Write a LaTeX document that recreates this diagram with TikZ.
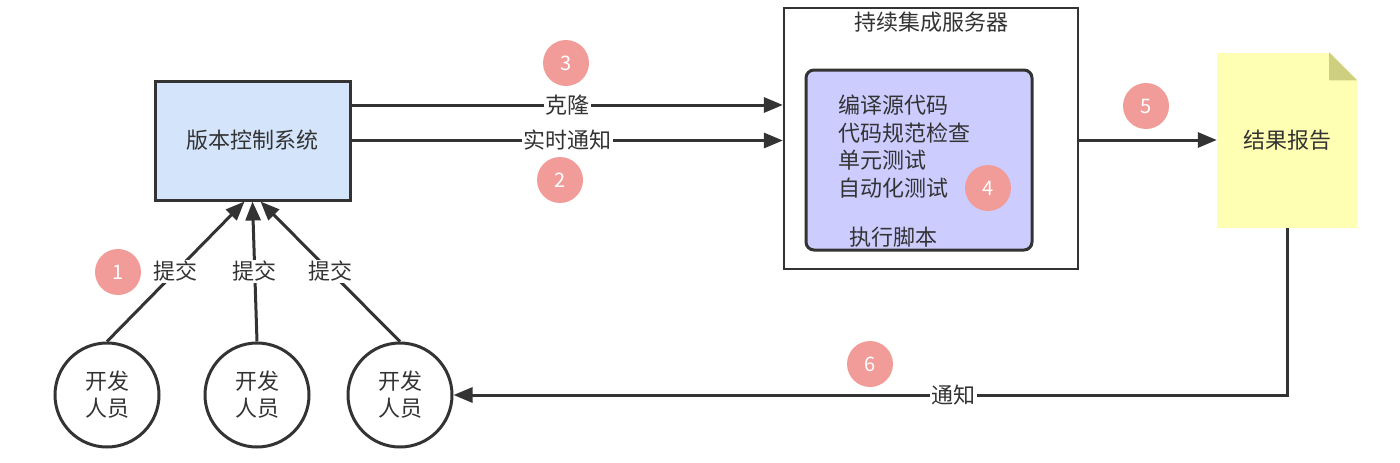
\documentclass[tikz,border=0pt]{standalone}
\usepackage{fontspec}
\setmainfont{Noto Sans CJK SC}
\usetikzlibrary{arrows.meta, positioning, calc}
\definecolor{ink}{HTML}{333333}
\definecolor{vcsFill}{HTML}{D4E5FB}
\definecolor{scriptFill}{HTML}{CCCCFF}
\definecolor{noteFill}{HTML}{FFFFB3}
\definecolor{noteFold}{HTML}{CFCF80}
\definecolor{badgeRed}{HTML}{F19C99}
\tikzset{
  font=\fontsize{22}{27}\selectfont,
  vcsbox/.style={rectangle, draw=ink, line width=3pt, fill=vcsFill, text=ink,
                 minimum width=195pt, minimum height=119pt},
  serverbox/.style={rectangle, draw=ink, line width=2.2pt, fill=white,
                    minimum width=294pt, minimum height=261pt},
  scriptbox/.style={rectangle, rounded corners=8pt, draw=ink, line width=3pt,
                    fill=scriptFill, minimum width=226pt, minimum height=180pt},
  notebox/.style={rectangle, fill=noteFill, text=ink,
                  minimum width=140pt, minimum height=175pt},
  dev/.style={circle, draw=ink, line width=3pt, fill=white, text=ink, align=center,
              minimum size=104pt, inner sep=0pt},
  title/.style={text=ink, inner sep=1pt},
  steps/.style={text=ink, align=left, anchor=west, inner sep=0pt,
                font=\fontsize{22}{27.7}\selectfont},
  badge/.style={circle, fill=badgeRed, text=white, minimum size=46pt, inner sep=0pt,
                font=\fontsize{20}{20}\selectfont},
  flow/.style={-{Triangle[length=19pt, width=15pt]}, draw=ink, line width=3pt},
  lbl/.style={fill=white, text=ink, inner sep=1.5pt},
}

\begin{document}
\begin{tikzpicture}[x=1pt, y=-1pt]
  \useasboundingbox (0,0) rectangle (1400,463);

  % --- blocks ---
  \node[vcsbox]    (vcs)    at (252.5,140.5) {版本控制系统};
  \node[serverbox] (ci)     at (931,138.5)   {};
  \node[title]     (citext) at (931,22)      {持续集成服务器};
  \node[scriptbox] (script) at (919,160)     {};
  \node[steps]     (steps)  at (838,146.5)   {编译源代码\\代码规范检查\\单元测试\\自动化测试};
  \node[title]     (runner) at (893,237)     {执行脚本};
  \node[notebox]   (report) at (1287,140)    {结果报告};
  % folded corner of the report note
  \fill[white] (report.north east) -- ++(-28,0) -- ++(28,28) -- cycle;
  \fill[noteFold] ($(report.north east)+(-28,0)$) -- ++(28,28) -- ++(-28,0) -- cycle;

  % --- developers ---
  \node[dev] (dev1) at (107,395) {开发\\人员};
  \node[dev] (dev2) at (257,395) {开发\\人员};
  \node[dev] (dev3) at (400,395) {开发\\人员};

  % --- commits ---
  \draw[flow] (dev1.north) -- node[lbl] {提交} ([xshift=-8pt]vcs.south);
  \draw[flow] (dev2.north) -- node[lbl] {提交} (vcs.south);
  \draw[flow] (dev3.north) -- node[lbl] {提交} ([xshift=8pt]vcs.south);

  % --- vcs -> server ---
  \coordinate (yclone) at (0,105);
  \draw[flow] (vcs.east |- yclone) -- node[lbl] {克隆} (ci.west |- yclone);
  \draw[flow] (vcs.east) -- node[lbl] {实时通知} (vcs.east -| ci.west);

  % --- server -> report -> developers ---
  \draw[flow] (ci.east |- report.west) -- (report.west);
  \draw[flow] (report.south) |- node[lbl, pos=0.7] {通知} (dev3.east);

  % --- step badges ---
  \node[badge] (b1) at (118,272) {1};
  \node[badge] (b2) at (560,180) {2};
  \node[badge] (b3) at (566,63)  {3};
  \node[badge] (b4) at (988,188) {4};
  \node[badge] (b5) at (1146,106) {5};
  \node[badge] (b6) at (870,364) {6};
\end{tikzpicture}
\end{document}
